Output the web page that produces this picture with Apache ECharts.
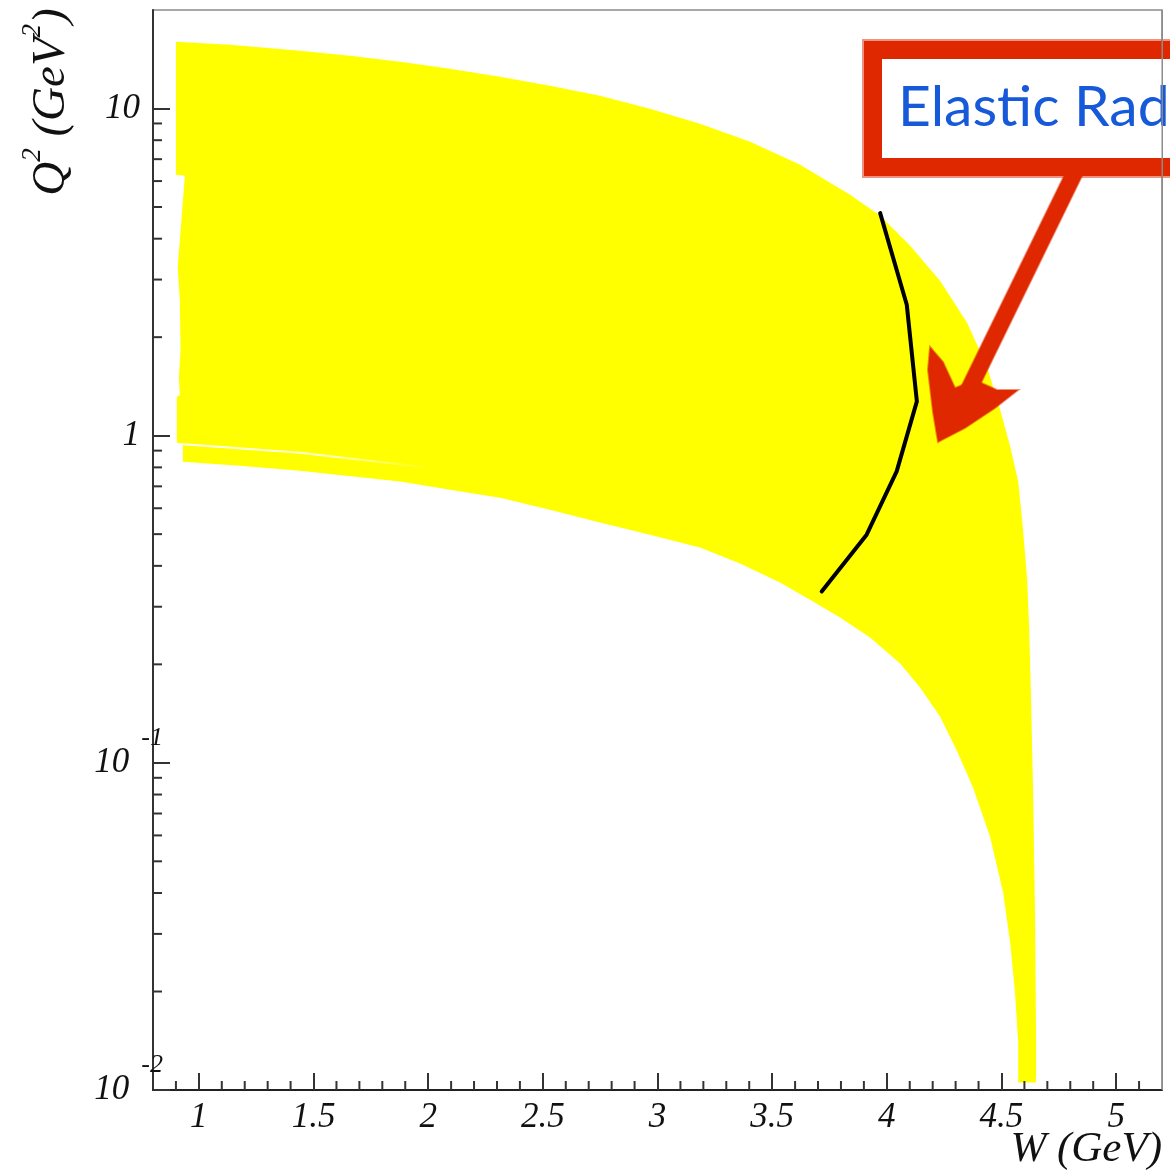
<!DOCTYPE html>
<html>
<head>
<meta charset="utf-8">
<script src="https://cdn.jsdelivr.net/npm/echarts@6/dist/echarts.min.js"></script>
<style>
  html, body { margin: 0; padding: 0; background: #ffffff; }
  #chart { width: 1170px; height: 1171px; }
</style>
</head>
<body>
<div id="chart"></div>
<script>
// Kinematic coverage in (W, Q^2): outline of the accessible region
// Upper / outer edge, from the top-left corner to the low-Q^2 tip
const upperEdgeW  = [0.900, 1.135, 1.441, 1.659, 1.877, 2.095, 2.313, 2.531, 2.749, 2.967, 3.185, 3.404, 3.622, 3.840,
                     3.971, 4.101, 4.232, 4.350, 4.437, 4.494, 4.538, 4.573, 4.594, 4.612, 4.621, 4.629, 4.638, 4.647, 4.651, 4.651];
const upperEdgeQ2 = [15.99, 15.65, 15.01, 14.49, 13.89, 13.22, 12.50, 11.73, 10.94, 9.98, 8.98, 7.91, 6.73, 5.45,
                     4.70, 3.81, 2.976, 2.214, 1.625, 1.200, 0.926, 0.724, 0.516, 0.363, 0.2555, 0.1561, 0.0812, 0.0316, 0.01397, 0.01055];
// Lower edge, from the tip back to the left
const lowerEdgeW  = [4.573, 4.573, 4.559, 4.538, 4.507, 4.450, 4.376, 4.307, 4.232, 4.145, 4.058, 3.927, 3.796, 3.665,
                     3.534, 3.360, 3.185, 2.967, 2.749, 2.531, 2.313, 2.095, 1.877, 1.441, 1.179, 0.930];
const lowerEdgeQ2 = [0.01055, 0.01397, 0.01987, 0.02825, 0.0402, 0.0595, 0.0841, 0.1083, 0.1385, 0.1698, 0.2011, 0.2414, 0.2779, 0.3153,
                     0.3556, 0.4064, 0.4548, 0.4983, 0.5424, 0.5940, 0.6465, 0.6839, 0.7237, 0.7818, 0.8097, 0.8329];
// Ragged low-W edge, bottom to top
const leftEdgeW  = [0.930, 0.904, 0.904, 0.917, 0.913, 0.920, 0.917, 0.908, 0.939, 0.900];
const leftEdgeQ2 = [0.932, 0.952, 1.316, 1.330, 1.50, 1.83, 2.60, 3.28, 6.23, 6.27];
// Gap between the two overlapping settings at low W
const seamW  = [0.904, 1.441, 2.008];
const seamQ2 = [0.945, 0.887, 0.798];
// Black boundary curve
const curveW  = [3.971, 4.087, 4.131, 4.043, 3.912, 3.716];
const curveQ2 = [4.79, 2.513, 1.273, 0.778, 0.498, 0.334];

// Axis ticks
const xMajorTicks = [1, 1.5, 2, 2.5, 3, 3.5, 4, 4.5, 5];
const xMinorTicks = [0.9, 1.1, 1.2, 1.3, 1.4, 1.6, 1.7, 1.8, 1.9, 2.1, 2.2, 2.3, 2.4, 2.6, 2.7, 2.8, 2.9,
                     3.1, 3.2, 3.3, 3.4, 3.6, 3.7, 3.8, 3.9, 4.1, 4.2, 4.3, 4.4, 4.6, 4.7, 4.8, 4.9, 5.1];
const yMinorTicks = [0.02, 0.03, 0.04, 0.05, 0.06, 0.07, 0.08, 0.09,
                     0.2, 0.3, 0.4, 0.5, 0.6, 0.7, 0.8, 0.9,
                     2, 3, 4, 5, 6, 7, 8, 9];

const X_MIN = 0.8, X_MAX = 5.2, Y_MIN = 0.01, Y_MAX = 20;
const zip = (a, b) => a.map((v, i) => [v, b[i]]);
const outline = zip(upperEdgeW, upperEdgeQ2)
  .concat(zip(lowerEdgeW, lowerEdgeQ2))
  .concat(zip(leftEdgeW, leftEdgeQ2));

const serif = 'Liberation Serif';
const tickColor = '#333';
const red = '#E02800';
const redSoft = 'rgba(224,40,0,0.5)';

const chart = echarts.init(document.getElementById('chart'), null, { renderer: 'canvas' });

chart.setOption({
  animation: false,
  backgroundColor: '#ffffff',
  grid: {
    left: 153, right: 8, top: 10, bottom: 81,
    show: true, borderColor: '#8c8c8c', borderWidth: 1.5, backgroundColor: 'transparent'
  },
  xAxis: {
    type: 'value', min: X_MIN, max: X_MAX,
    axisLine: { show: true, lineStyle: { color: '#222', width: 2 } },
    axisTick: { show: true, inside: true, length: 17, customValues: xMajorTicks, lineStyle: { color: tickColor, width: 2 } },
    axisLabel: {
      customValues: xMajorTicks, margin: 10,
      fontFamily: serif, fontStyle: 'italic', fontSize: 35, color: '#111'
    },
    splitLine: { show: false }
  },
  yAxis: {
    type: 'log', logBase: 10, min: Y_MIN, max: Y_MAX,
    axisLine: { show: true, lineStyle: { color: '#333', width: 2 } },
    axisTick: { show: true, inside: true, length: 17, lineStyle: { color: tickColor, width: 2 } },
    splitLine: { show: false },
    axisLabel: {
      margin: -10,
      showMaxLabel: false,
      formatter: function (v) {
        const lg = Math.log10(v);
        const e = Math.round(lg);
        if (Math.abs(lg - e) > 1e-6) return '';
        if (e === 0) return '{p|1}';
        if (e === 1) return '{p|10}';
        return '{b|10}{s|' + e + '}';
      },
      rich: {
        p: { fontFamily: serif, fontStyle: 'italic', fontSize: 35, color: '#111', padding: [0, 23, 0, 0] },
        b: { fontFamily: serif, fontStyle: 'italic', fontSize: 35, color: '#111', padding: [0, 12, 0, 0] },
        s: { fontFamily: serif, fontStyle: 'italic', fontSize: 26, color: '#111', padding: [0, 0, 50, 0] }
      }
    }
  },
  series: [
    {
      // accessible region
      type: 'custom', name: 'coverage', z: 1, clip: true,
      data: [[X_MIN, Y_MIN]],
      renderItem: function (params, api) {
        const pts = outline.map(p => api.coord(p));
        return { type: 'polygon', shape: { points: pts }, style: { fill: '#ffff00', stroke: null } };
      },
      silent: true
    },
    {
      type: 'line', name: 'seam', z: 2, data: zip(seamW, seamQ2),
      symbol: 'none', silent: true,
      lineStyle: {
        width: 2,
        color: new echarts.graphic.LinearGradient(0, 0, 1, 0, [
          { offset: 0, color: 'rgba(255,255,255,1)' },
          { offset: 0.6, color: 'rgba(255,255,255,0.8)' },
          { offset: 1, color: 'rgba(255,255,255,0)' }
        ])
      }
    },
    {
      type: 'line', name: 'boundary', z: 3, data: zip(curveW, curveQ2),
      symbol: 'none', lineStyle: { color: '#000000', width: 4, cap: 'round', join: 'round' }, silent: true
    },
    {
      // minor ticks along W
      type: 'custom', name: 'xminor', z: 4, clip: false, silent: true,
      data: xMinorTicks.map(v => [v, Y_MIN]),
      renderItem: function (params, api) {
        const p = api.coord([api.value(0), Y_MIN]);
        return { type: 'line', shape: { x1: p[0], y1: p[1], x2: p[0], y2: p[1] - 9 }, style: { stroke: tickColor, lineWidth: 2 } };
      }
    },
    {
      // minor ticks along Q^2
      type: 'custom', name: 'yminor', z: 4, clip: false, silent: true,
      data: yMinorTicks.map(v => [X_MIN, v]),
      renderItem: function (params, api) {
        const p = api.coord([X_MIN, api.value(1)]);
        return { type: 'line', shape: { x1: p[0], y1: p[1], x2: p[0] + 9, y2: p[1] }, style: { stroke: tickColor, lineWidth: 2 } };
      }
    }
  ],
  graphic: [
    // axis titles
    {
      type: 'text', x: 1162, y: 1150, z: 10,
      style: {
        text: 'W (GeV)', fill: '#111',
        font: 'italic 43px "Liberation Serif"', textAlign: 'right', textVerticalAlign: 'middle'
      }
    },
    {
      type: 'text', x: 52, y: 102, rotation: Math.PI / 2, z: 10,
      style: {
        text: '{q|Q}{s|2}{q| (GeV}{s|2}{q|)}',
        textAlign: 'center', textVerticalAlign: 'middle',
        rich: {
          q: { fontFamily: serif, fontStyle: 'italic', fontSize: 47, fill: '#111' },
          s: { fontFamily: serif, fontStyle: 'italic', fontSize: 27, fill: '#111', padding: [0, 0, 38, 0] }
        }
      }
    },
    // annotation box: soft crayon edge under a solid stroke
    {
      type: 'rect', z: 19,
      shape: { x: 873, y: 50, width: 360, height: 117 },
      style: { fill: '#ffffff', stroke: redSoft, lineWidth: 22 }
    },
    {
      type: 'rect', z: 20,
      shape: { x: 873, y: 50, width: 360, height: 117 },
      style: { fill: '#ffffff', stroke: red, lineWidth: 18 }
    },
    {
      type: 'text', x: 898, y: 79, z: 21,
      style: {
        text: 'Elastic Rad', fill: '#1659D9',
        font: '57px Lato', textAlign: 'left', textVerticalAlign: 'top'
      }
    },
    // arrow shaft
    {
      type: 'polygon', z: 20,
      shape: { points: [[1066, 172], [1082, 176], [980, 385], [962, 385]] },
      style: { fill: red, stroke: redSoft, lineWidth: 2 }
    },
    // arrow head
    {
      type: 'polygon', z: 20,
      shape: { points: [[930, 347], [943, 362], [955, 388], [975, 380], [997, 390], [1018, 390], [995, 408], [965, 428], [938, 442], [933, 412], [928, 370]] },
      style: { fill: red, stroke: redSoft, lineWidth: 2 }
    },
    // right frame edge over the annotation
    {
      type: 'line', z: 30,
      shape: { x1: 1162.25, y1: 10, x2: 1162.25, y2: 1090 },
      style: { stroke: '#8c8c8c', lineWidth: 1.5 }
    }
  ]
});
</script>
</body>
</html>
